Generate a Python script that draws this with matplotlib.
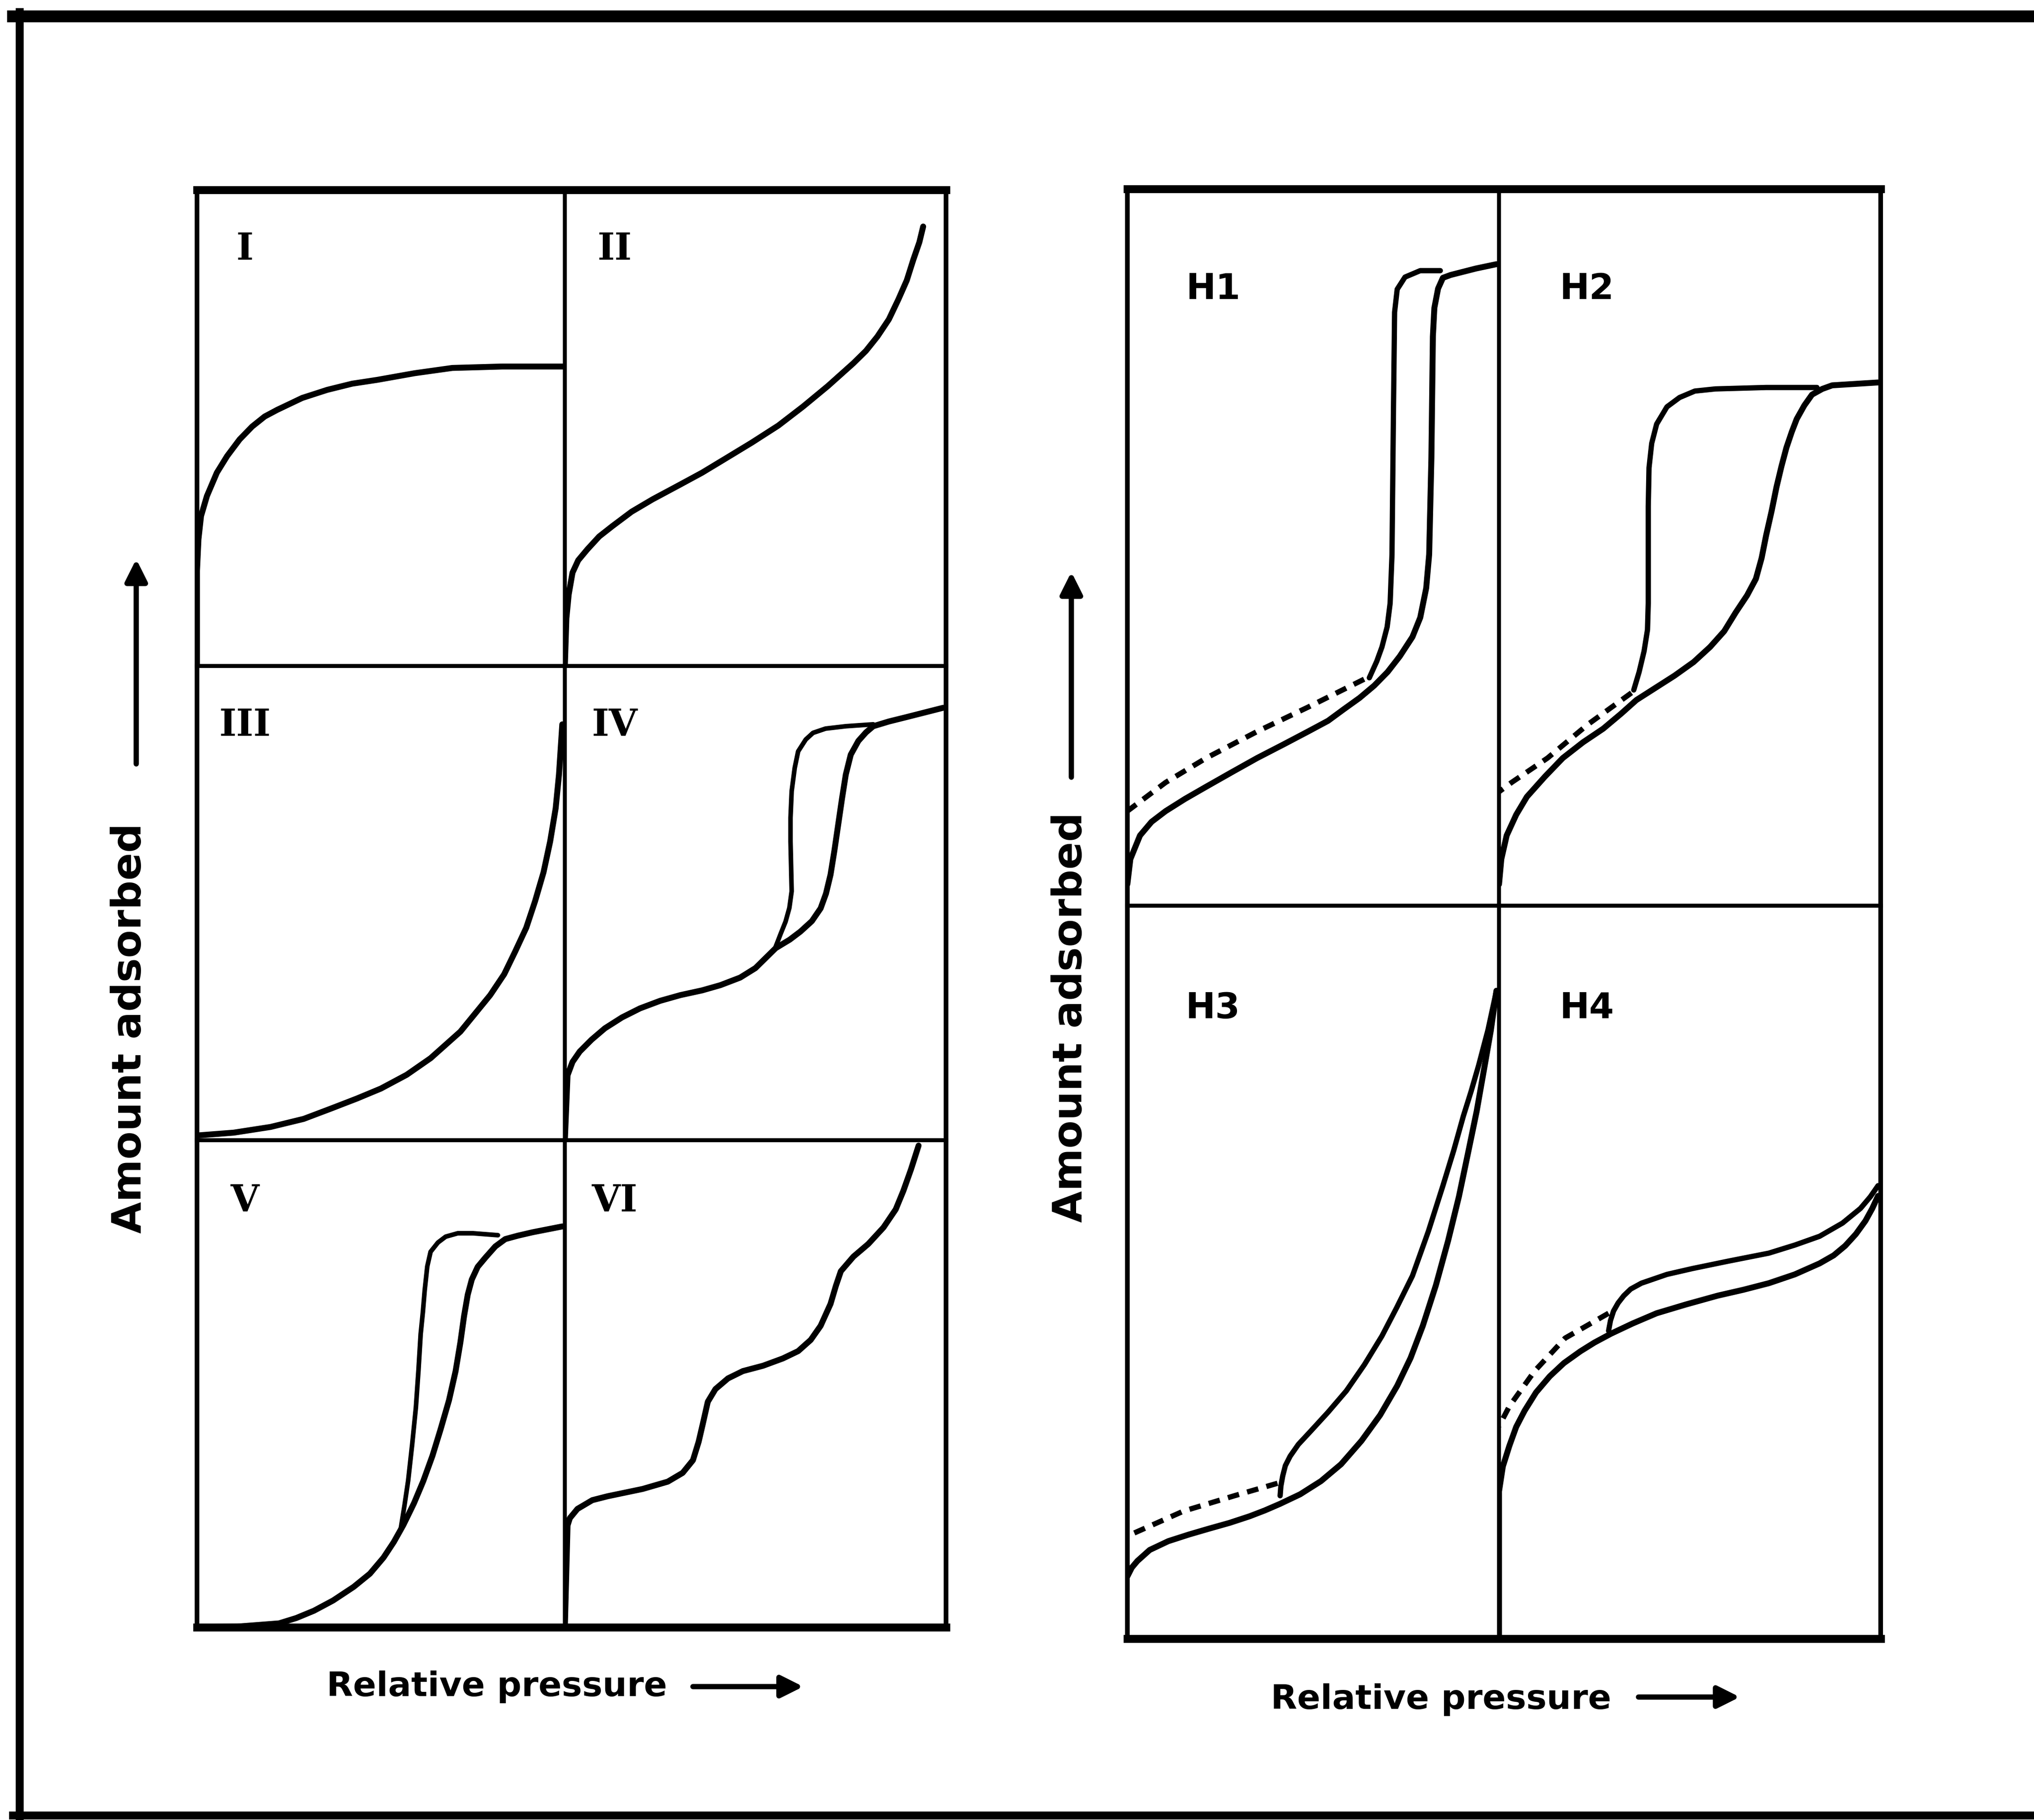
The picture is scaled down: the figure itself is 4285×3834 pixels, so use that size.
import matplotlib.pyplot as plt
from matplotlib.lines import Line2D
from matplotlib.patches import FancyArrowPatch

W, H = 4285, 3834

# ---- isotherm types I-VI (x: relative pressure, y: amount adsorbed, both 0..1) ----
type1_x = [0, 0.0, 0.004, 0.011, 0.027, 0.054, 0.082, 0.116, 0.15, 0.184, 0.218, 0.286,
           0.354, 0.422, 0.49, 0.592, 0.694, 0.83, 1.0]
type1_y = [0, 0.20, 0.266, 0.315, 0.357, 0.406, 0.441, 0.476, 0.503, 0.524, 0.538, 0.563,
           0.58, 0.593, 0.601, 0.615, 0.626, 0.629, 0.629]

type2_x = [0, 0.004, 0.01, 0.02, 0.035, 0.059, 0.09, 0.125, 0.175, 0.23, 0.3, 0.36, 0.42,
           0.49, 0.56, 0.625, 0.69, 0.757, 0.79, 0.82, 0.85, 0.875, 0.897, 0.914, 0.93, 0.94]
type2_y = [0, 0.10, 0.15, 0.196, 0.222, 0.245, 0.272, 0.294, 0.324, 0.35, 0.38, 0.406, 0.435,
           0.469, 0.505, 0.545, 0.588, 0.636, 0.662, 0.692, 0.728, 0.77, 0.81, 0.853, 0.89, 0.923]

type3_x = [0, 0.1, 0.2, 0.29, 0.365, 0.435, 0.5, 0.57, 0.635, 0.716, 0.797, 0.835, 0.865,
           0.895, 0.919, 0.942, 0.96, 0.975, 0.984, 0.993]
type3_y = [0.01, 0.016, 0.028, 0.045, 0.067, 0.088, 0.109, 0.138, 0.173, 0.229, 0.306,
           0.35, 0.398, 0.448, 0.504, 0.565, 0.63, 0.70, 0.771, 0.877]

type4_ads_x = [0, 0.007, 0.02, 0.039, 0.07, 0.105, 0.15, 0.197, 0.25, 0.303, 0.36, 0.408,
               0.46, 0.5, 0.553, 0.59, 0.618, 0.648, 0.671, 0.685, 0.697, 0.707, 0.717,
               0.727, 0.737, 0.75, 0.77, 0.79, 0.809, 0.85, 0.895, 0.993]
type4_ads_y = [0, 0.137, 0.165, 0.187, 0.212, 0.236, 0.259, 0.278, 0.294, 0.306, 0.316,
               0.327, 0.343, 0.363, 0.405, 0.423, 0.44, 0.462, 0.489, 0.52, 0.56, 0.61,
               0.665, 0.72, 0.771, 0.813, 0.842, 0.86, 0.873, 0.883, 0.892, 0.912]
type4_des_x = [0.809, 0.737, 0.684, 0.651, 0.632, 0.612, 0.603, 0.595, 0.592, 0.592,
               0.595, 0.589, 0.579, 0.566, 0.553]
type4_des_y = [0.877, 0.873, 0.868, 0.859, 0.845, 0.82, 0.785, 0.736, 0.68, 0.63, 0.525,
               0.49, 0.461, 0.435, 0.408]

type5_ads_x = [0, 0.12, 0.223, 0.27, 0.318, 0.37, 0.426, 0.47, 0.507, 0.535, 0.561, 0.59,
               0.615, 0.64, 0.662, 0.685, 0.703, 0.716, 0.726, 0.736, 0.747, 0.763, 0.784,
               0.811, 0.838, 0.872, 0.912, 0.993]
type5_ads_y = [0, 0.002, 0.008, 0.019, 0.034, 0.055, 0.083, 0.11, 0.143, 0.175, 0.21, 0.255,
               0.30, 0.352, 0.406, 0.466, 0.526, 0.585, 0.639, 0.683, 0.714, 0.74, 0.759,
               0.782, 0.797, 0.804, 0.811, 0.823]
type5_des_x = [0.818, 0.75, 0.709, 0.676, 0.655, 0.635, 0.626, 0.619, 0.614, 0.608, 0.602,
               0.595, 0.585, 0.574, 0.564, 0.554]
type5_des_y = [0.805, 0.809, 0.809, 0.802, 0.79, 0.771, 0.741, 0.692, 0.647, 0.602, 0.527,
               0.451, 0.376, 0.301, 0.25, 0.203]

type6_x = [0, 0.007, 0.013, 0.033, 0.072, 0.112, 0.204, 0.27, 0.309, 0.336, 0.351, 0.362,
           0.375, 0.395, 0.428, 0.467, 0.52, 0.572, 0.612, 0.645, 0.671, 0.697, 0.711,
           0.724, 0.757, 0.796, 0.836, 0.868, 0.888, 0.908, 0.928]
type6_y = [0, 0.209, 0.224, 0.243, 0.261, 0.269, 0.284, 0.299, 0.317, 0.343, 0.381, 0.418,
           0.463, 0.489, 0.511, 0.526, 0.537, 0.552, 0.567, 0.59, 0.619, 0.664, 0.701,
           0.731, 0.761, 0.787, 0.821, 0.858, 0.896, 0.94, 0.989]

# ---- hysteresis loops H1-H4 ----
h1_ads_x = [0, 0.008, 0.034, 0.065, 0.103, 0.155, 0.212, 0.28, 0.349, 0.42, 0.486, 0.54,
            0.582, 0.625, 0.664, 0.70, 0.733, 0.767, 0.788, 0.804, 0.812, 0.818, 0.822,
            0.826, 0.836, 0.849, 0.87, 0.938, 0.993]
h1_ads_y = [0.03, 0.065, 0.098, 0.117, 0.132, 0.149, 0.166, 0.186, 0.206, 0.225, 0.243,
            0.258, 0.274, 0.29, 0.307, 0.326, 0.348, 0.375, 0.402, 0.443, 0.49, 0.625,
            0.794, 0.834, 0.861, 0.876, 0.88, 0.889, 0.895]
h1_des_x = [0.842, 0.788, 0.747, 0.726, 0.719, 0.716, 0.712, 0.707, 0.699, 0.685, 0.671,
            0.651]
h1_des_y = [0.886, 0.886, 0.877, 0.86, 0.828, 0.693, 0.49, 0.422, 0.389, 0.361, 0.341,
            0.318]
h1_low_x = [0.637, 0.486, 0.349, 0.212, 0.103, 0.0]
h1_low_y = [0.316, 0.277, 0.243, 0.206, 0.172, 0.132]

h2_ads_x = [0, 0.006, 0.02, 0.045, 0.073, 0.12, 0.167, 0.22, 0.273, 0.32, 0.36, 0.41,
            0.46, 0.51, 0.553, 0.59, 0.62, 0.65, 0.673, 0.688, 0.70, 0.714, 0.727, 0.74,
            0.753, 0.767, 0.78, 0.80, 0.82, 0.847, 0.873, 0.993]
h2_ads_y = [0.03, 0.065, 0.098, 0.127, 0.152, 0.18, 0.206, 0.228, 0.247, 0.268, 0.287,
            0.304, 0.321, 0.34, 0.361, 0.383, 0.409, 0.433, 0.456, 0.485, 0.517, 0.55,
            0.584, 0.613, 0.639, 0.661, 0.679, 0.698, 0.713, 0.721, 0.726, 0.73]
h2_des_x = [0.833, 0.70, 0.567, 0.513, 0.473, 0.44, 0.413, 0.40, 0.393, 0.391, 0.391,
            0.389, 0.38, 0.367, 0.353]
h2_des_y = [0.723, 0.723, 0.721, 0.718, 0.709, 0.696, 0.672, 0.645, 0.611, 0.557, 0.422,
            0.385, 0.355, 0.326, 0.301]
h2_low_x = [0.347, 0.233, 0.127, 0.033, 0.0]
h2_low_y = [0.297, 0.253, 0.206, 0.172, 0.159]

h3_ads_x = [0, 0.012, 0.027, 0.06, 0.11, 0.165, 0.219, 0.275, 0.329, 0.37, 0.411, 0.465,
            0.521, 0.575, 0.63, 0.68, 0.726, 0.762, 0.795, 0.83, 0.863, 0.892, 0.918, 0.94,
            0.959, 0.978, 0.993]
h3_ads_y = [0.085, 0.097, 0.106, 0.121, 0.133, 0.142, 0.15, 0.158, 0.167, 0.175, 0.184,
            0.197, 0.215, 0.238, 0.27, 0.305, 0.345, 0.383, 0.427, 0.482, 0.543, 0.603,
            0.666, 0.72, 0.775, 0.83, 0.884]
h3_des_x = [0.993, 0.97, 0.945, 0.925, 0.904, 0.878, 0.849, 0.81, 0.767, 0.725, 0.685,
            0.638, 0.589, 0.54, 0.493, 0.46, 0.438, 0.425, 0.418, 0.413, 0.411]
h3_des_y = [0.884, 0.83, 0.782, 0.747, 0.713, 0.666, 0.618, 0.556, 0.495, 0.452, 0.413,
            0.374, 0.338, 0.309, 0.283, 0.265, 0.249, 0.236, 0.222, 0.208, 0.195]
h3_low_x = [0.404, 0.288, 0.151, 0.0]
h3_low_y = [0.212, 0.195, 0.174, 0.14]

h4_ads_x = [0, 0.0, 0.01, 0.027, 0.045, 0.067, 0.097, 0.133, 0.17, 0.213, 0.25, 0.293,
            0.35, 0.413, 0.49, 0.573, 0.64, 0.707, 0.775, 0.84, 0.877, 0.907, 0.935,
            0.96, 0.978, 0.993]
h4_ads_y = [0.0, 0.201, 0.235, 0.263, 0.289, 0.311, 0.336, 0.358, 0.376, 0.392, 0.404,
            0.416, 0.43, 0.444, 0.456, 0.468, 0.476, 0.485, 0.497, 0.512, 0.523, 0.536,
            0.552, 0.57, 0.587, 0.604]
h4_des_x = [0.993, 0.973, 0.947, 0.9, 0.84, 0.775, 0.707, 0.6, 0.507, 0.44, 0.373, 0.345,
            0.327, 0.312, 0.30, 0.292, 0.287]
h4_des_y = [0.618, 0.603, 0.587, 0.567, 0.549, 0.537, 0.526, 0.515, 0.505, 0.497, 0.485,
            0.477, 0.468, 0.458, 0.447, 0.434, 0.42]
h4_low_x = [0.287, 0.173, 0.093, 0.027, 0.0]
h4_low_y = [0.444, 0.41, 0.365, 0.317, 0.29]

type_labels = ['I', 'II', 'III', 'IV', 'V', 'VI']
loop_labels = ['H1', 'H2', 'H3', 'H4']
ylabel_text = 'Amount adsorbed'
xlabel_text = 'Relative pressure'

fig = plt.figure(figsize=(W / 100, H / 100), dpi=100)
fig.patch.set_facecolor('white')


def fx(px):
    return px / W


def fy(py):
    return 1 - py / H


def panel(x0, x1, y0, y1, lw=6):
    ax = fig.add_axes([fx(x0), fy(y1), fx(x1) - fx(x0), fy(y0) - fy(y1)])
    ax.set_xlim(0, 1)
    ax.set_ylim(0, 1)
    ax.set_xticks([])
    ax.set_yticks([])
    for s in ax.spines.values():
        s.set_linewidth(lw)
    return ax


def frame(x0, x1, y0, y1, lw_tb=12, lw_lr=7):
    ax = fig.add_axes([fx(x0), fy(y1), fx(x1) - fx(x0), fy(y0) - fy(y1)])
    ax.patch.set_alpha(0)
    ax.set_xticks([])
    ax.set_yticks([])
    ax.spines['top'].set_linewidth(lw_tb)
    ax.spines['bottom'].set_linewidth(lw_tb)
    ax.spines['left'].set_linewidth(lw_lr)
    ax.spines['right'].set_linewidth(lw_lr)
    ax.set_zorder(10)


def curve(ax, x, y, lw=9, ls='-'):
    if ls == '-':
        ax.plot(x, y, color='black', lw=lw, solid_capstyle='round', solid_joinstyle='round')
    else:
        ax.plot(x, y, color='black', lw=lw, ls=(0, (2.2, 1.6)), dash_capstyle='butt')


def roman(ax, text):
    ax.text(0.13, 0.875, text, transform=ax.transAxes, ha='center', va='center',
            fontsize=56, fontweight='bold', family='DejaVu Serif')


def hlabel(ax, text):
    ax.text(0.23, 0.86, text, transform=ax.transAxes, ha='center', va='center',
            fontsize=54, fontweight='bold')


# left block: classification of isotherms
lx = [415, 1190, 1993]
ly = [400, 1403, 2402, 3428]
axes_left = []
for r in range(3):
    for c in range(2):
        axes_left.append(panel(lx[c], lx[c + 1], ly[r], ly[r + 1]))
frame(lx[0], lx[2], ly[0], ly[3])

a1, a2, a3, a4, a5, a6 = axes_left
curve(a1, type1_x, type1_y)
curve(a2, type2_x, type2_y)
curve(a3, type3_x, type3_y)
curve(a4, type4_ads_x, type4_ads_y)
curve(a4, type4_des_x, type4_des_y, lw=7)
curve(a5, type5_ads_x, type5_ads_y)
curve(a5, type5_des_x, type5_des_y, lw=7)
curve(a6, type6_x, type6_y)
for ax, lab in zip(axes_left, type_labels):
    roman(ax, lab)

# right block: hysteresis loop types
rx = [2375, 3158, 3962]
ry = [398, 1908, 3452]
axes_right = []
for r in range(2):
    for c in range(2):
        axes_right.append(panel(rx[c], rx[c + 1], ry[r], ry[r + 1]))
frame(rx[0], rx[2], ry[0], ry[2])

loops = [(h1_ads_x, h1_ads_y, h1_des_x, h1_des_y, h1_low_x, h1_low_y),
         (h2_ads_x, h2_ads_y, h2_des_x, h2_des_y, h2_low_x, h2_low_y),
         (h3_ads_x, h3_ads_y, h3_des_x, h3_des_y, h3_low_x, h3_low_y),
         (h4_ads_x, h4_ads_y, h4_des_x, h4_des_y, h4_low_x, h4_low_y)]
for ax, lab, (ax_, ay_, dx_, dy_, lx_, ly_) in zip(axes_right, loop_labels, loops):
    curve(ax, ax_, ay_)
    curve(ax, dx_, dy_, lw=8)
    curve(ax, lx_, ly_, lw=8, ls='--')
    hlabel(ax, lab)


# axis captions with arrows
def arrow(x0, y0, x1, y1):
    fig.add_artist(FancyArrowPatch((fx(x0), fy(y0)), (fx(x1), fy(y1)),
                                   transform=fig.transFigure, arrowstyle='-|>',
                                   mutation_scale=70, lw=8, color='black'))


fig.text(fx(273), fy(2166), ylabel_text, rotation=90, ha='center', va='center',
         fontsize=62, fontweight='bold')
arrow(287, 1612, 287, 1175)
fig.text(fx(2255), fy(2143), ylabel_text, rotation=90, ha='center', va='center',
         fontsize=62, fontweight='bold')
arrow(2257, 1640, 2257, 1202)

fig.text(fx(1047), fy(3553), xlabel_text, ha='center', va='center',
         fontsize=52, fontweight='bold')
arrow(1457, 3553, 1695, 3553)
fig.text(fx(3036), fy(3580), xlabel_text, ha='center', va='center',
         fontsize=52, fontweight='bold')
arrow(3449, 3575, 3668, 3575)

# outer border (top, left and bottom edges)
fig.add_artist(Line2D([fx(27), fx(W)], [fy(34), fy(34)], transform=fig.transFigure,
                      color='black', lw=18))
fig.add_artist(Line2D([fx(41), fx(41)], [fy(25), fy(3826)], transform=fig.transFigure,
                      color='black', lw=12))
fig.add_artist(Line2D([fx(27), fx(W)], [fy(3824), fy(3824)], transform=fig.transFigure,
                      color='black', lw=12))

fig.savefig('out.png', dpi=100, facecolor='white')
